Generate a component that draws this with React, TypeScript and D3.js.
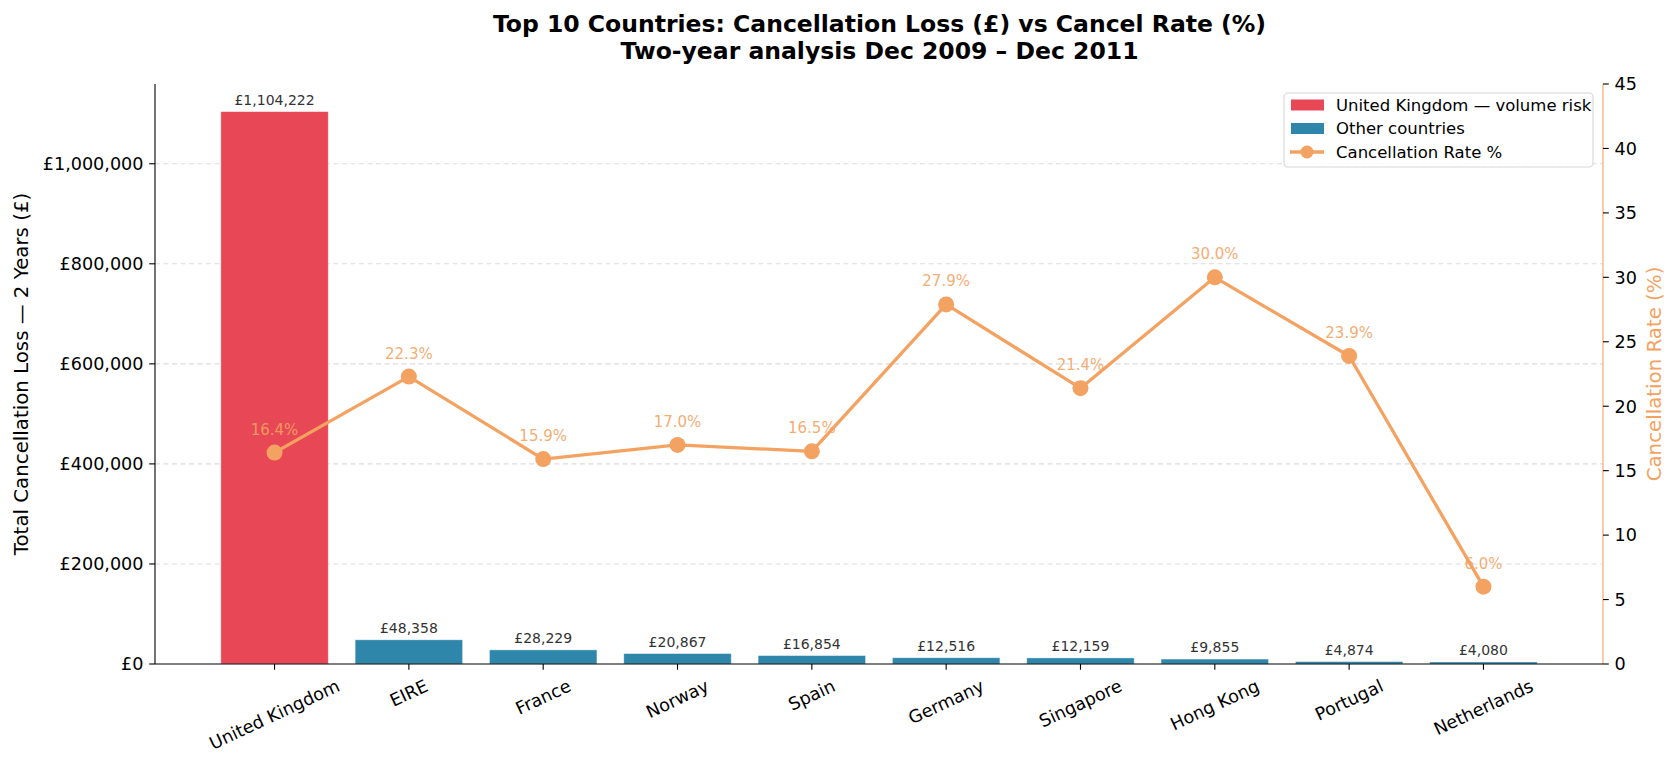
import React, { useEffect, useRef } from 'react';
import * as d3 from 'd3';

const countries = ['United Kingdom', 'EIRE', 'France', 'Norway', 'Spain', 'Germany', 'Singapore', 'Hong Kong', 'Portugal', 'Netherlands'];
const losses = [1104222, 48358, 28229, 20867, 16854, 12516, 12159, 9855, 4874, 4080];
const rates = [16.4, 22.3, 15.9, 17.0, 16.5, 27.9, 21.4, 30.0, 23.9, 6.0];
const legendLabels = ['United Kingdom — volume risk', 'Other countries', 'Cancellation Rate %'];

const W = 1677, H = 767;
const RED = '#E84855', BLUE = '#2E86AB', ORANGE = '#F4A261';
const FONT = '"DejaVu Sans", sans-serif';
const TICK = 17.6;

const App = () => {
  const ref = useRef(null);

  useEffect(() => {
    document.body.style.margin = '0';
    if (!ref.current) return;
    const svg = d3.select(ref.current);
    svg.selectAll('*').remove();

    const margin = { top: 84, right: 74, bottom: 103, left: 155 };
    const x0 = margin.left, x1 = W - margin.right;
    const y0 = H - margin.bottom, y1 = margin.top;

    const x = d3.scaleBand().domain(countries).range([x0, x1]).paddingInner(0.2).paddingOuter(0.49);
    const yL = d3.scaleLinear().domain([0, d3.max(losses) * 1.05]).range([y0, y1]);
    const yR = d3.scaleLinear().domain([0, 45]).range([y0, y1]);
    const fmt = d3.format(',.0f');
    const cx = (d: string) => x(d) + x.bandwidth() / 2;

    // grid
    svg.append('g').selectAll('line').data(yL.ticks(6).filter(d => d > 0)).enter().append('line')
      .attr('x1', x0).attr('x2', x1).attr('y1', d => yL(d)).attr('y2', d => yL(d))
      .attr('stroke', '#dcdcdc').attr('stroke-width', 1.1).attr('stroke-dasharray', '5,3.5');

    // bars
    svg.append('g').selectAll('rect').data(countries).enter().append('rect')
      .attr('x', d => x(d)).attr('width', x.bandwidth())
      .attr('y', (d, i) => yL(losses[i])).attr('height', (d, i) => y0 - yL(losses[i]))
      .attr('fill', (d, i) => (i === 0 ? RED : BLUE))
      .attr('stroke', '#fff').attr('stroke-opacity', 0.5).attr('stroke-width', 0.8);

    // bar labels
    svg.append('g').selectAll('text').data(countries).enter().append('text')
      .attr('x', cx).attr('y', (d, i) => yL(losses[i]) - 7)
      .attr('text-anchor', 'middle').attr('font-family', FONT).attr('font-size', 14).attr('fill', '#333')
      .text((d, i) => '£' + fmt(losses[i]));

    // rate labels (under the line)
    svg.append('g').selectAll('text').data(countries).enter().append('text')
      .attr('x', cx).attr('y', (d, i) => yR(rates[i]) - 18)
      .attr('text-anchor', 'middle').attr('font-family', FONT).attr('font-size', 15)
      .attr('fill', ORANGE).attr('fill-opacity', 0.9)
      .text((d, i) => rates[i].toFixed(1) + '%');

    // rate line
    const line = d3.line<number>().x((d, i) => cx(countries[i])).y(d => yR(d));
    svg.append('path').datum(rates).attr('d', line)
      .attr('fill', 'none').attr('stroke', ORANGE).attr('stroke-width', 3.3).attr('stroke-linejoin', 'round');
    svg.append('g').selectAll('circle').data(rates).enter().append('circle')
      .attr('cx', (d, i) => cx(countries[i])).attr('cy', d => yR(d))
      .attr('r', 8).attr('fill', ORANGE);

    // spines
    svg.append('line').attr('x1', x0).attr('x2', x0).attr('y1', y1).attr('y2', y0).attr('stroke', '#000').attr('stroke-width', 1.1);
    svg.append('line').attr('x1', x1).attr('x2', x1).attr('y1', y1).attr('y2', y0).attr('stroke', ORANGE).attr('stroke-width', 1.1);
    svg.append('line').attr('x1', x0).attr('x2', x1).attr('y1', y0).attr('y2', y0).attr('stroke', '#000').attr('stroke-width', 1.1);

    // left ticks
    const gl = svg.append('g').selectAll('g').data(yL.ticks(6)).enter().append('g');
    gl.append('line').attr('x1', x0 - 5.8).attr('x2', x0).attr('y1', d => yL(d)).attr('y2', d => yL(d)).attr('stroke', '#000').attr('stroke-width', 1.1);
    gl.append('text').attr('x', x0 - 11.5).attr('y', d => yL(d)).attr('dy', '0.36em')
      .attr('text-anchor', 'end').attr('font-family', FONT).attr('font-size', TICK).attr('fill', '#000')
      .text(d => '£' + fmt(d));

    // right ticks
    const gr = svg.append('g').selectAll('g').data(yR.ticks(9)).enter().append('g');
    gr.append('line').attr('x1', x1).attr('x2', x1 + 5.8).attr('y1', d => yR(d)).attr('y2', d => yR(d)).attr('stroke', '#000').attr('stroke-width', 1.1);
    gr.append('text').attr('x', x1 + 11.5).attr('y', d => yR(d)).attr('dy', '0.36em')
      .attr('text-anchor', 'start').attr('font-family', FONT).attr('font-size', TICK).attr('fill', '#000')
      .text(d => String(d));

    // x ticks with rotated labels
    const ang = 25 * Math.PI / 180;
    const gx = svg.append('g').selectAll('g').data(countries).enter().append('g');
    gx.append('line').attr('x1', cx).attr('x2', cx)
      .attr('y1', y0).attr('y2', y0 + 5.8).attr('stroke', '#000').attr('stroke-width', 1.1);
    gx.append('text').attr('text-anchor', 'middle').attr('dominant-baseline', 'central')
      .attr('font-family', FONT).attr('font-size', TICK).attr('fill', '#000')
      .text(d => d)
      .attr('transform', function (d) {
        const w = (this as SVGTextElement).getComputedTextLength();
        const h = TICK * 1.16;
        const bh = w * Math.sin(ang) + h * Math.cos(ang);
        return `translate(${cx(d)},${y0 + 11.6 + bh / 2}) rotate(-25)`;
      });

    // axis labels
    svg.append('text').attr('transform', `translate(21,${(y0 + y1) / 2}) rotate(-90)`)
      .attr('text-anchor', 'middle').attr('dominant-baseline', 'central')
      .attr('font-family', FONT).attr('font-size', 19.8).attr('fill', '#000')
      .text('Total Cancellation Loss — 2 Years (£)');
    svg.append('text').attr('transform', `translate(1654,${(y0 + y1) / 2}) rotate(-90)`)
      .attr('text-anchor', 'middle').attr('dominant-baseline', 'central')
      .attr('font-family', FONT).attr('font-size', 19.8).attr('fill', ORANGE)
      .text('Cancellation Rate (%)');

    // title
    const title = svg.append('text').attr('text-anchor', 'middle').attr('font-family', FONT)
      .attr('font-size', 23.5).attr('font-weight', 'bold').attr('fill', '#000');
    title.append('tspan').attr('x', (x0 + x1) / 2 + 0.5).attr('y', 31.5).text('Top 10 Countries: Cancellation Loss (£) vs Cancel Rate (%)');
    title.append('tspan').attr('x', (x0 + x1) / 2 + 0.5).attr('y', 59).text('Two-year analysis Dec 2009 – Dec 2011');

    // legend
    const lg = svg.append('g');
    lg.append('rect').attr('x', 1284).attr('y', 93).attr('width', 309).attr('height', 74).attr('rx', 4)
      .attr('fill', '#fff').attr('fill-opacity', 0.85).attr('stroke', '#d6d6d6').attr('stroke-width', 1.1);
    const rowY = [105, 128.5, 152];
    legendLabels.forEach((lab, i) => {
      if (i < 2) {
        lg.append('rect').attr('x', 1291).attr('y', rowY[i] - 5.5).attr('width', 33).attr('height', 11)
          .attr('fill', i === 0 ? RED : BLUE);
      } else {
        lg.append('line').attr('x1', 1290).attr('x2', 1324).attr('y1', rowY[i]).attr('y2', rowY[i])
          .attr('stroke', ORANGE).attr('stroke-width', 3.3);
        lg.append('circle').attr('cx', 1307).attr('cy', rowY[i]).attr('r', 6.5).attr('fill', ORANGE);
      }
      lg.append('text').attr('x', 1336).attr('y', rowY[i]).attr('dy', '0.36em')
        .attr('font-family', FONT).attr('font-size', 16.5).attr('fill', '#000').text(lab);
    });
  }, []);

  return <svg ref={ref} width={W} height={H} style={{ display: 'block', background: '#fff' }} />;
};

export default App;
